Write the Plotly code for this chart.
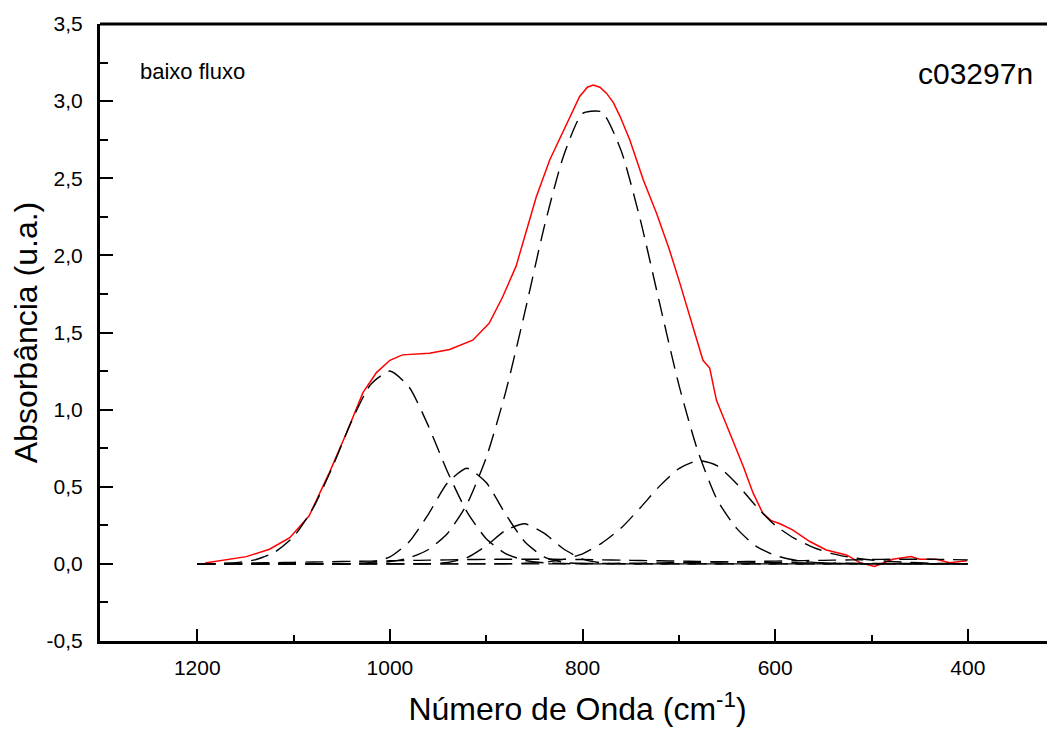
import plotly.graph_objects as go

# Wavenumber grid (cm-1) for the fitted component curves
WN = [1200, 1180, 1160, 1140, 1120, 1100, 1080, 1060, 1040, 1020,
      1000, 980, 960, 940, 920, 900, 880, 860, 840, 820,
      800, 780, 760, 740, 720, 700, 680, 660, 640, 620,
      600, 580, 560, 540, 520, 500, 480, 460, 440, 420, 400]

# Fitted components (dashed black)
C1 = [0.000, 0.002, 0.008, 0.026, 0.074, 0.176, 0.359, 0.623, 0.922, 1.163,
      1.250, 1.145, 0.893, 0.594, 0.337, 0.163, 0.067, 0.023, 0.007, 0.002,
      0, 0, 0, 0, 0, 0, 0, 0, 0, 0,
      0, 0, 0, 0, 0, 0, 0, 0, 0, 0, 0]
C2 = [0, 0, 0, 0, 0, 0, 0, 0, 0.002, 0.010,
      0.045, 0.143, 0.323, 0.527, 0.620, 0.527, 0.323, 0.143, 0.045, 0.010,
      0.002, 0, 0, 0, 0, 0, 0, 0, 0, 0,
      0, 0, 0, 0, 0, 0, 0, 0, 0, 0, 0]
C3 = [0, 0, 0, 0, 0, 0, 0, 0, 0, 0,
      0, 0, 0.001, 0.009, 0.040, 0.117, 0.217, 0.260, 0.199, 0.098,
      0.031, 0.006, 0.001, 0, 0, 0, 0, 0, 0, 0,
      0, 0, 0, 0, 0, 0, 0, 0, 0, 0, 0]
C4 = [0, 0, 0, 0, 0, 0, 0, 0, 0.002, 0.005,
      0.015, 0.039, 0.093, 0.199, 0.388, 0.689, 1.110, 1.630, 2.180, 2.640,
      2.920, 2.930, 2.680, 2.230, 1.690, 1.160, 0.725, 0.413, 0.230, 0.115,
      0.055, 0.025, 0.010, 0.004, 0.001, 0, 0, 0, 0, 0, 0]
C5 = [0, 0, 0, 0, 0, 0, 0, 0, 0, 0,
      0, 0, 0, 0, 0, 0.000, 0.001, 0.004, 0.011, 0.029,
      0.065, 0.135, 0.232, 0.364, 0.504, 0.618, 0.670, 0.635, 0.520, 0.375,
      0.250, 0.165, 0.105, 0.065, 0.040, 0.025, 0.015, 0.010, 0.005, 0.002, 0.000]
B1 = [0.000, 0.002, 0.004, 0.006, 0.008, 0.010, 0.012, 0.014, 0.016, 0.018,
      0.020, 0.022, 0.024, 0.026, 0.028, 0.029, 0.030, 0.030, 0.030, 0.029,
      0.028, 0.026, 0.024, 0.022, 0.020, 0.018, 0.016, 0.014, 0.012, 0.010,
      0.008, 0.007, 0.006, 0.005, 0.004, 0.003, 0.002, 0.002, 0.001, 0.001, 0.000]
B2 = [0, 0, 0, 0, 0, 0, 0, 0, 0, 0,
      0, 0, 0, 0, 0, 0, 0, 0, 0, 0,
      0.002, 0.003, 0.004, 0.005, 0.006, 0.008, 0.010, 0.012, 0.014, 0.016,
      0.018, 0.020, 0.022, 0.024, 0.026, 0.028, 0.030, 0.030, 0.030, 0.028, 0.026]

# Measured spectrum (red)
RX = [1192, 1170, 1149, 1125, 1104, 1084, 1063, 1045, 1028, 1014,
      1000, 987, 975, 959, 938, 914, 897, 883, 869, 858,
      848, 834, 820, 810, 803, 795, 789, 782, 775, 768,
      761, 751, 737, 723, 710, 699, 685, 675, 668, 661,
      644, 633, 623, 613, 604, 595, 582, 564, 547, 526,
      512, 497, 478, 459, 450, 433, 419, 401]
RY = [0.005, 0.025, 0.047, 0.095, 0.17, 0.31, 0.59, 0.85, 1.11, 1.24,
      1.32, 1.355, 1.36, 1.365, 1.39, 1.45, 1.56, 1.73, 1.93, 2.165,
      2.38, 2.62, 2.81, 2.94, 3.03, 3.09, 3.105, 3.09, 3.05, 2.99,
      2.90, 2.75, 2.49, 2.27, 2.04, 1.82, 1.52, 1.32, 1.27, 1.06,
      0.80, 0.63, 0.46, 0.33, 0.28, 0.26, 0.22, 0.145, 0.09, 0.058,
      0.008, -0.017, 0.03, 0.047, 0.03, 0.03, 0.008, 0.02]

X_TICKS = [1200, 1000, 800, 600, 400]
X_MINOR = [1100, 900, 700, 500]
Y_TICKS = [-0.5, 0.0, 0.5, 1.0, 1.5, 2.0, 2.5, 3.0, 3.5]
Y_TICKTEXT = ["-0,5", "0,0", "0,5", "1,0", "1,5", "2,0", "2,5", "3,0", "3,5"]
Y_MINOR = [-0.25, 0.25, 0.75, 1.25, 1.75, 2.25, 2.75, 3.25]

FONT = "Liberation Sans, Arial, sans-serif"

fig = go.Figure()
fig.add_trace(go.Scatter(x=RX, y=RY, mode="lines",
                         line=dict(color="#ff0000", width=1.5), showlegend=False))
for comp in [B1, B2, C1, C2, C3, C4, C5]:
    fig.add_trace(go.Scatter(x=WN, y=comp, mode="lines", showlegend=False,
                             line=dict(color="black", width=1.4, dash="18px,9px",
                                       shape="spline", smoothing=0.6)))

# page body has an 8px margin, so the figure starts at (8, 8) in the window
fig.update_layout(
    width=1055, height=734,
    margin=dict(l=92, r=8, t=16, b=101),
    paper_bgcolor="white", plot_bgcolor="white",
    font=dict(family=FONT, color="black"),
    showlegend=False,
)
fig.update_xaxes(
    range=[1301, 309.5], automargin=False,
    tickvals=X_TICKS, ticktext=[str(v) for v in X_TICKS],
    ticks="inside", ticklen=12, tickwidth=2, tickcolor="black",
    minor=dict(tickvals=X_MINOR, ticks="inside", ticklen=6, tickwidth=2, tickcolor="black"),
    showline=True, linewidth=3, linecolor="black",
    showgrid=False, zeroline=False,
    tickfont=dict(size=21, family=FONT, color="black"),
    ticklabelstandoff=6,
    title=dict(text="Número de Onda (cm<sup>-1</sup>)", font=dict(size=32, family=FONT), standoff=20),
)
fig.update_yaxes(
    range=[-0.5, 3.5], automargin=False,
    tickvals=Y_TICKS, ticktext=Y_TICKTEXT,
    ticks="inside", ticklen=13, tickwidth=2, tickcolor="black",
    minor=dict(tickvals=Y_MINOR, ticks="inside", ticklen=8, tickwidth=2, tickcolor="black"),
    showline=True, linewidth=3, linecolor="black",
    showgrid=False, zeroline=False,
    tickfont=dict(size=21, family=FONT, color="black"),
    ticklabelstandoff=10,
    title=dict(text="Absorbância (u.a.)", font=dict(size=32, family=FONT), standoff=3),
)
fig.add_shape(type="line", xref="paper", yref="paper", x0=0, x1=1, y0=1, y1=1,
              line=dict(color="black", width=3))
fig.add_annotation(text="baixo fluxo", xref="paper", yref="paper",
                   x=(138 - 100) / 955, y=(641 - 72) / 617, xanchor="left", yanchor="middle",
                   showarrow=False, font=dict(size=22, family=FONT, color="black"))
fig.add_annotation(text="c03297n", xref="paper", yref="paper",
                   x=(1035 - 100) / 955, y=(641 - 73) / 617, xanchor="right", yanchor="middle",
                   showarrow=False, font=dict(size=30, family=FONT, color="black"))

fig.write_html("out.html")
